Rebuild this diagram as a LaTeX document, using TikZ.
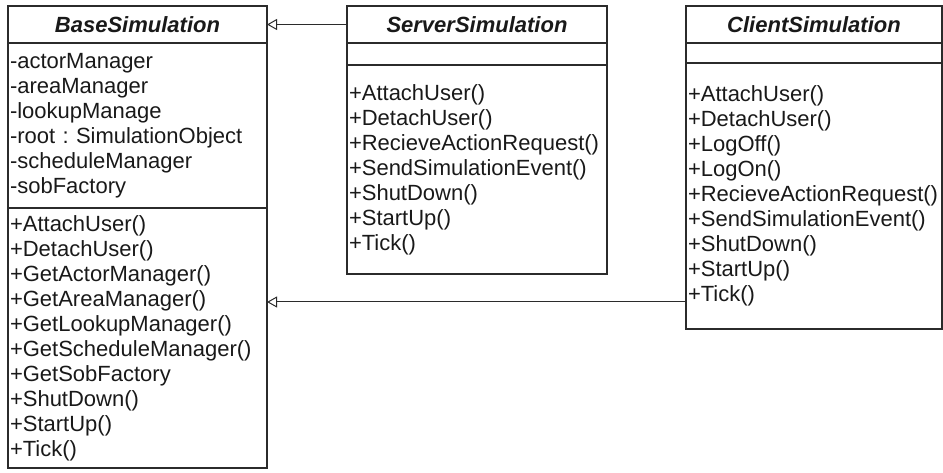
\documentclass[tikz,border=0pt]{standalone}
\usepackage{fontspec}
\setmainfont{Liberation Sans}
\usepackage{xcolor}
\usetikzlibrary{positioning, arrows.meta}

\definecolor{inkgray}{HTML}{2B2B2B}

\begin{document}
\begin{tikzpicture}[x=1pt, y=1pt, node distance=80pt,
    umlbox/.style={rectangle, draw=inkgray, line width=1.3pt, inner xsep=2pt, inner ysep=3pt, outer sep=0pt, text=black!90, font=\fontsize{22}{25}\selectfont, text width=#1},
    classname/.style={umlbox=#1, align=center, minimum height=37pt, font=\fontsize{22}{25}\selectfont\bfseries\itshape},
    members/.style={umlbox=#1, align=left},
    inherit/.style={draw=inkgray, line width=1pt, -{Triangle[open, length=10pt, width=11pt]}}]

    \useasboundingbox (0,0) rectangle (943,-473);

    % base class
    \node [classname=255pt] (base-name) at (137.5,-24.5) {BaseSimulation};
    \node [members=255pt, minimum height=165pt, below=0pt of base-name] (base-attr) {-actorManager\\-areaManager\\-lookupManage\\-root :\ SimulationObject\\-scheduleManager\\-sobFactory};
    \node [members=255pt, minimum height=260pt, below=0pt of base-attr] (base-ops) {+AttachUser()\\+DetachUser()\\+GetActorManager()\\+GetAreaManager()\\+GetLookupManager()\\+GetScheduleManager()\\+GetSobFactory\\+ShutDown()\\+StartUp()\\+Tick()};

    % server side
    \node [classname=256pt, right=80pt of base-name] (srv-name) {ServerSimulation};
    \node [members=256pt, minimum height=22pt, below=0pt of srv-name] (srv-attr) {};
    \node [members=256pt, minimum height=209pt, below=0pt of srv-attr] (srv-ops) {+AttachUser()\\+DetachUser()\\+RecieveActionRequest()\\+SendSimulationEvent()\\+ShutDown()\\+StartUp()\\+Tick()};

    % client side
    \node [classname=252pt, right=79pt of srv-name] (cli-name) {ClientSimulation};
    \node [members=252pt, minimum height=20pt, below=0pt of cli-name] (cli-attr) {};
    \node [members=252pt, minimum height=266pt, below=0pt of cli-attr] (cli-ops) {+AttachUser()\\+DetachUser()\\+LogOff()\\+LogOn()\\+RecieveActionRequest()\\+SendSimulationEvent()\\+ShutDown()\\+StartUp()\\+Tick()};

    % generalisation
    \draw [inherit] (srv-name) -- (base-name);
    \coordinate (tick-in) at ([yshift=-106pt]cli-ops.west);
    \draw [inherit] (tick-in) -- (tick-in -| base-ops.east);

\end{tikzpicture}
\end{document}
